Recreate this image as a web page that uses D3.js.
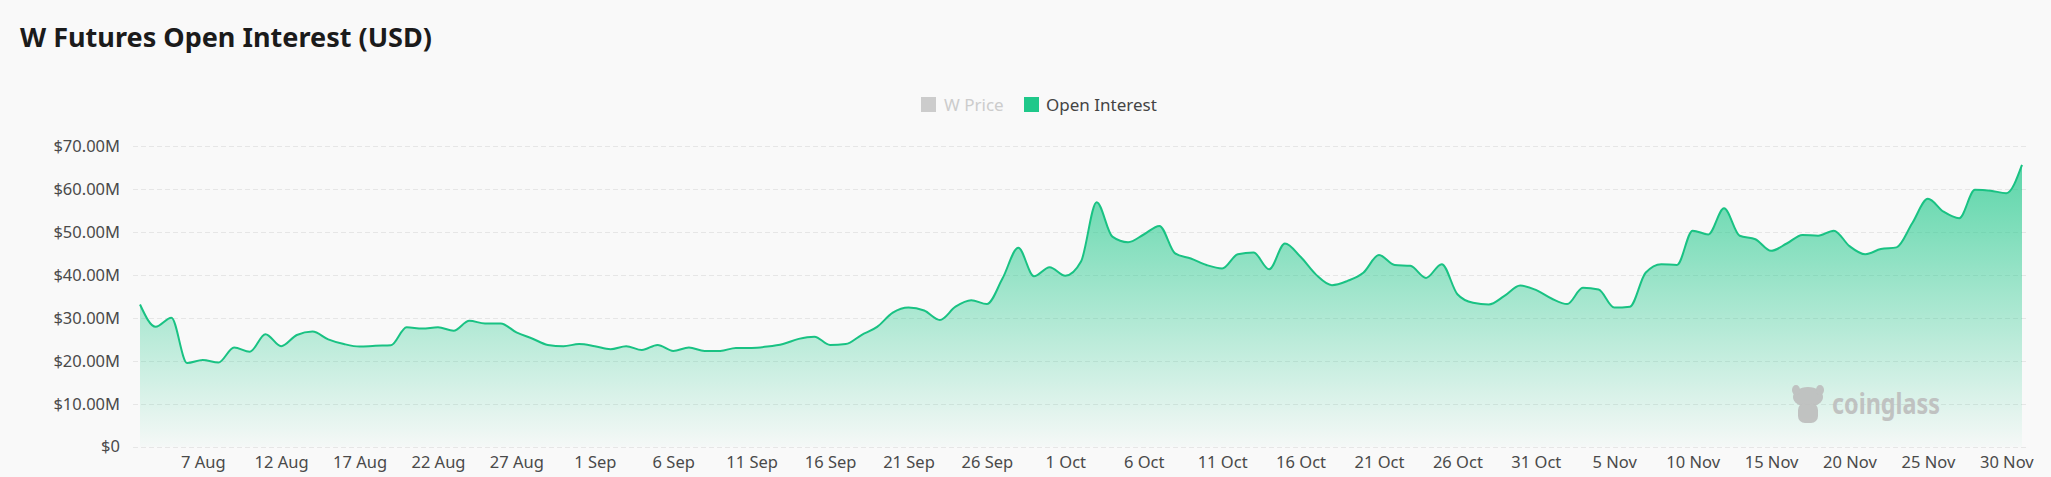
<!DOCTYPE html>
<html>
<head>
<meta charset="utf-8">
<script src="https://cdn.jsdelivr.net/npm/d3@7"></script>
<style>
  html, body { margin: 0; padding: 0; background: #f9f9f9; }
  svg { display: block; }
</style>
</head>
<body>
<svg id="chart" width="2051" height="477"></svg>
<script>
// ---- data ----
const title = "W Futures Open Interest (USD)";
const seriesNames = ["W Price", "Open Interest"];
const dates = [
  "2024-08-03","2024-08-04","2024-08-05","2024-08-06","2024-08-07","2024-08-08","2024-08-09","2024-08-10",
  "2024-08-11","2024-08-12","2024-08-13","2024-08-14","2024-08-15","2024-08-16","2024-08-17","2024-08-18",
  "2024-08-19","2024-08-20","2024-08-21","2024-08-22","2024-08-23","2024-08-24","2024-08-25","2024-08-26",
  "2024-08-27","2024-08-28","2024-08-29","2024-08-30","2024-08-31","2024-09-01","2024-09-02","2024-09-03",
  "2024-09-04","2024-09-05","2024-09-06","2024-09-07","2024-09-08","2024-09-09","2024-09-10","2024-09-11",
  "2024-09-12","2024-09-13","2024-09-14","2024-09-15","2024-09-16","2024-09-17","2024-09-18","2024-09-19",
  "2024-09-20","2024-09-21","2024-09-22","2024-09-23","2024-09-24","2024-09-25","2024-09-26","2024-09-27",
  "2024-09-28","2024-09-29","2024-09-30","2024-10-01","2024-10-02","2024-10-03","2024-10-04","2024-10-05",
  "2024-10-06","2024-10-07","2024-10-08","2024-10-09","2024-10-10","2024-10-11","2024-10-12","2024-10-13",
  "2024-10-14","2024-10-15","2024-10-16","2024-10-17","2024-10-18","2024-10-19","2024-10-20","2024-10-21",
  "2024-10-22","2024-10-23","2024-10-24","2024-10-25","2024-10-26","2024-10-27","2024-10-28","2024-10-29",
  "2024-10-30","2024-10-31","2024-11-01","2024-11-02","2024-11-03","2024-11-04","2024-11-05","2024-11-06",
  "2024-11-07","2024-11-08","2024-11-09","2024-11-10","2024-11-11","2024-11-12","2024-11-13","2024-11-14",
  "2024-11-15","2024-11-16","2024-11-17","2024-11-18","2024-11-19","2024-11-20","2024-11-21","2024-11-22",
  "2024-11-23","2024-11-24","2024-11-25","2024-11-26","2024-11-27","2024-11-28","2024-11-29","2024-11-30",
  "2024-12-01"
];
// Open interest in millions USD
const openInterest = [
  33.1,27.9,30.0,19.5,20.2,19.6,23.1,22.1,
  26.2,23.4,26.0,26.8,25.0,23.9,23.3,23.5,
  23.6,27.8,27.5,27.8,27.0,29.3,28.7,28.7,
  26.6,25.2,23.7,23.4,23.9,23.4,22.7,23.4,
  22.5,23.7,22.3,23.1,22.3,22.3,23.0,23.0,
  23.3,23.9,25.1,25.6,23.7,23.9,26.0,27.9,
  31.2,32.4,31.7,29.5,32.6,34.1,33.2,39.2,
  46.3,39.7,41.8,39.8,43.1,56.9,48.9,47.6,
  49.4,51.4,45.0,43.8,42.3,41.5,44.8,45.2,
  41.3,47.3,44.2,40.0,37.6,38.6,40.5,44.6,
  42.3,42.1,39.3,42.5,35.5,33.5,33.1,35.1,
  37.5,36.5,34.5,33.2,37.0,36.6,32.4,32.6,
  40.5,42.5,42.3,50.3,49.4,55.5,49.1,48.3,
  45.6,47.3,49.3,49.1,50.3,46.7,44.8,46.0,
  46.4,52.0,57.7,54.7,53.2,59.8,59.6,59.0,
  65.6
];
const yTicks = [0, 10, 20, 30, 40, 50, 60, 70];
const yTickLabels = ["$0","$10.00M","$20.00M","$30.00M","$40.00M","$50.00M","$60.00M","$70.00M"];
const xTickDates = ["2024-08-07","2024-08-12","2024-08-17","2024-08-22","2024-08-27","2024-09-01",
  "2024-09-06","2024-09-11","2024-09-16","2024-09-21","2024-09-26","2024-10-01","2024-10-06",
  "2024-10-11","2024-10-16","2024-10-21","2024-10-26","2024-10-31","2024-11-05","2024-11-10",
  "2024-11-15","2024-11-20","2024-11-25","2024-11-30"];

// ---- layout ----
const svg = d3.select("#chart");
const parse = d3.utcParse("%Y-%m-%d");
const data = dates.map((d, i) => ({ date: parse(d), v: openInterest[i] }));

const plot = { left: 140, right: 2022, top: 146, bottom: 446.7, gridL: 133, gridR: 2028 };
const x = d3.scaleUtc().domain(d3.extent(data, d => d.date)).range([plot.left, plot.right]);
const y = d3.scaleLinear().domain([0, 70]).range([plot.bottom, plot.top]);

const green = "#1fc88a";
const lineColor = "#19c283";

svg.append("rect").attr("width", 2051).attr("height", 477).attr("fill", "#f9f9f9");

// title
svg.append("text")
  .attr("x", 20).attr("y", 47)
  .attr("font-family", "'Noto Sans', sans-serif")
  .attr("font-weight", 700)
  .attr("font-size", 27)
  .attr("fill", "#1b1b1b")
  .attr("textLength", 412)
  .attr("lengthAdjust", "spacingAndGlyphs")
  .text(title);

// legend
const legend = svg.append("g").attr("font-family", "'Noto Sans', sans-serif").attr("font-size", 17);
legend.append("rect").attr("x", 921).attr("y", 97).attr("width", 15).attr("height", 15).attr("fill", "#cccccc");
legend.append("text").attr("x", 944).attr("y", 110.5).attr("fill", "#cccccc").text(seriesNames[0]);
legend.append("rect").attr("x", 1024).attr("y", 97).attr("width", 15).attr("height", 15).attr("fill", green);
legend.append("text").attr("x", 1046).attr("y", 110.5).attr("fill", "#444").text(seriesNames[1]);

// grid lines
const grid = svg.append("g");
grid.selectAll("line").data(yTicks).join("line")
  .attr("x1", plot.gridL).attr("x2", plot.gridR)
  .attr("y1", d => Math.round(y(d)) + 0.5).attr("y2", d => Math.round(y(d)) + 0.5)
  .attr("stroke", "#e6e6e6").attr("stroke-width", 1).attr("stroke-dasharray", "5,3");

// y axis labels
const yAxis = d3.axisLeft(y).tickValues(yTicks).tickSize(0).tickPadding(0)
  .tickFormat((d, i) => yTickLabels[i]);
svg.append("g").attr("transform", "translate(120,0)").call(yAxis)
  .call(g => g.select(".domain").remove())
  .call(g => g.selectAll("text").attr("font-family", "'Noto Sans', sans-serif").attr("font-size", 16.5).attr("fill", "#4a4a4a"));

// x axis labels
const xAxis = d3.axisBottom(x).tickValues(xTickDates.map(parse)).tickSize(0).tickPadding(0)
  .tickFormat(d3.utcFormat("%-d %b"));
svg.append("g").attr("transform", "translate(0,456)").call(xAxis)
  .call(g => g.select(".domain").remove())
  .call(g => g.selectAll("text").attr("font-family", "'Noto Sans', sans-serif").attr("font-size", 16.5).attr("fill", "#4a4a4a"));

// gradient
const defs = svg.append("defs");
const grad = defs.append("linearGradient").attr("id", "oiGrad")
  .attr("gradientUnits", "userSpaceOnUse")
  .attr("x1", 0).attr("x2", 0).attr("y1", y(d3.max(openInterest))).attr("y2", plot.bottom);
grad.append("stop").attr("offset", 0).attr("stop-color", green).attr("stop-opacity", 0.72);
grad.append("stop").attr("offset", 1).attr("stop-color", green).attr("stop-opacity", 0.02);

const area = d3.area().x(d => x(d.date)).y0(y(0)).y1(d => y(d.v)).curve(d3.curveMonotoneX);
const line = d3.line().x(d => x(d.date)).y(d => y(d.v)).curve(d3.curveMonotoneX);

svg.append("path").datum(data).attr("d", area).attr("fill", "url(#oiGrad)");
svg.append("path").datum(data).attr("d", line).attr("fill", "none")
  .attr("stroke", lineColor).attr("stroke-width", 2).attr("stroke-linejoin", "round");

// watermark
const wm = svg.append("g").attr("fill", "#bdbdbd").attr("opacity", 0.9);
wm.append("ellipse").attr("cx", 1808).attr("cy", 397).attr("rx", 15).attr("ry", 10);
wm.append("ellipse").attr("cx", 1796).attr("cy", 390).attr("rx", 4).attr("ry", 5);
wm.append("ellipse").attr("cx", 1820).attr("cy", 390).attr("rx", 4).attr("ry", 5);
wm.append("rect").attr("x", 1798).attr("y", 403).attr("width", 20).attr("height", 20).attr("rx", 7);
wm.append("text").attr("x", 1832).attr("y", 414)
  .attr("font-family", "'Noto Sans', sans-serif").attr("font-weight", 700).attr("font-size", 28)
  .attr("textLength", 108).attr("lengthAdjust", "spacingAndGlyphs")
  .text("coinglass");
</script>
</body>
</html>
